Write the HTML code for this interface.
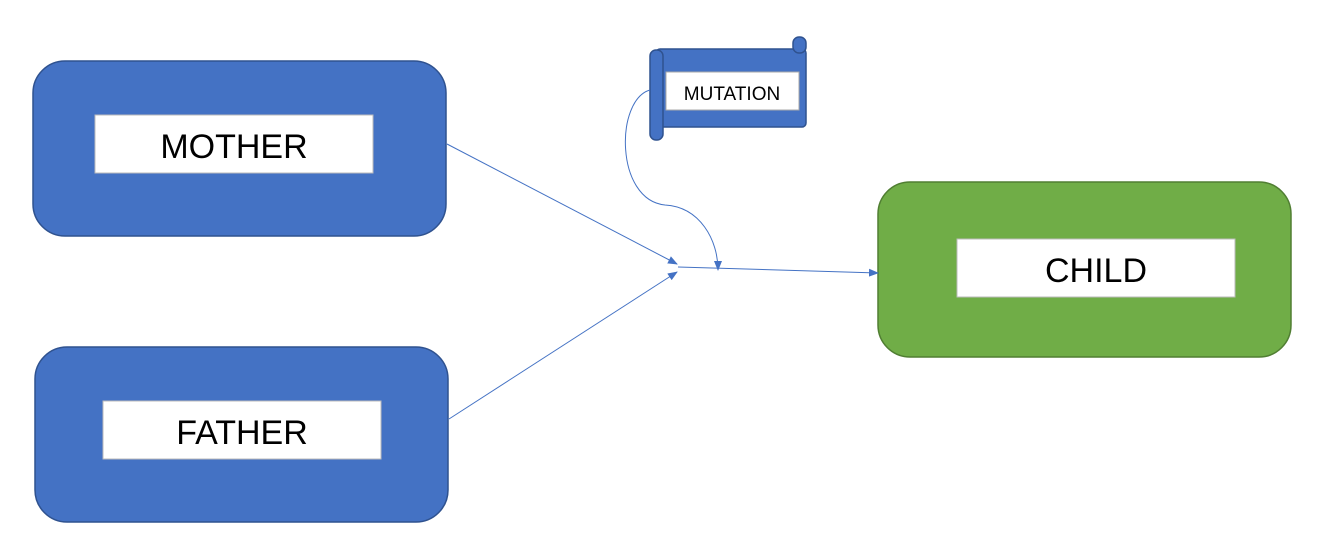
<!DOCTYPE html>
<html><head><meta charset="utf-8"><style>
html,body{margin:0;padding:0;background:#fff;width:1338px;height:557px;overflow:hidden}
svg text{font-family:"Liberation Sans",sans-serif}
</style></head><body>
<svg width="1338" height="557" viewBox="0 0 1338 557">
<defs>
<marker id="a" markerWidth="10" markerHeight="8" refX="9" refY="4" orient="auto" markerUnits="userSpaceOnUse">
<path d="M0,0 L10,4 L0,8 Z" fill="#4472C4"/></marker>
</defs>
<rect x="33" y="61" width="413" height="175" rx="32" fill="#4472C4" stroke="#2F528F" stroke-width="1.5"/>
<rect x="95" y="115" width="278" height="58" fill="#fff" stroke="#bbb"/>
<text x="234" y="158" font-size="34" text-anchor="middle">MOTHER</text>
<rect x="35" y="347" width="413" height="175" rx="32" fill="#4472C4" stroke="#2F528F" stroke-width="1.5"/>
<rect x="103" y="401" width="278" height="58" fill="#fff" stroke="#bbb"/>
<text x="242" y="444" font-size="34" text-anchor="middle">FATHER</text>
<rect x="878" y="182" width="413" height="175" rx="32" fill="#70AD47" stroke="#507E32" stroke-width="1.5"/>
<rect x="957" y="239" width="278" height="58" fill="#fff" stroke="#bbb"/>
<text x="1096" y="282" font-size="34" text-anchor="middle">CHILD</text>
<!-- scroll -->
<rect x="656" y="49" width="150" height="78" rx="4" fill="#4472C4" stroke="#2F528F" stroke-width="1.5"/>
<rect x="793" y="37" width="13" height="16" rx="6" fill="#4472C4" stroke="#2F528F" stroke-width="1.5"/>
<rect x="650" y="50" width="13" height="90" rx="6" fill="#4472C4" stroke="#2F528F" stroke-width="1.5"/>
<rect x="666" y="72" width="133" height="38" fill="#fff" stroke="#aaa"/>
<text x="732" y="100" font-size="19" text-anchor="middle">MUTATION</text>
<!-- connectors -->
<line x1="447" y1="144" x2="677" y2="264" stroke="#4472C4" stroke-width="1" marker-end="url(#a)"/>
<line x1="449" y1="419" x2="677" y2="272" stroke="#4472C4" stroke-width="1" marker-end="url(#a)"/>
<line x1="678" y1="267" x2="878" y2="273" stroke="#4472C4" stroke-width="1" marker-end="url(#a)"/>
<path d="M650,90 C615,100 615,200 665,205 C700,207 718,240 718,270" fill="none" stroke="#4472C4" stroke-width="1" marker-end="url(#a)"/>
</svg>
</body></html>
